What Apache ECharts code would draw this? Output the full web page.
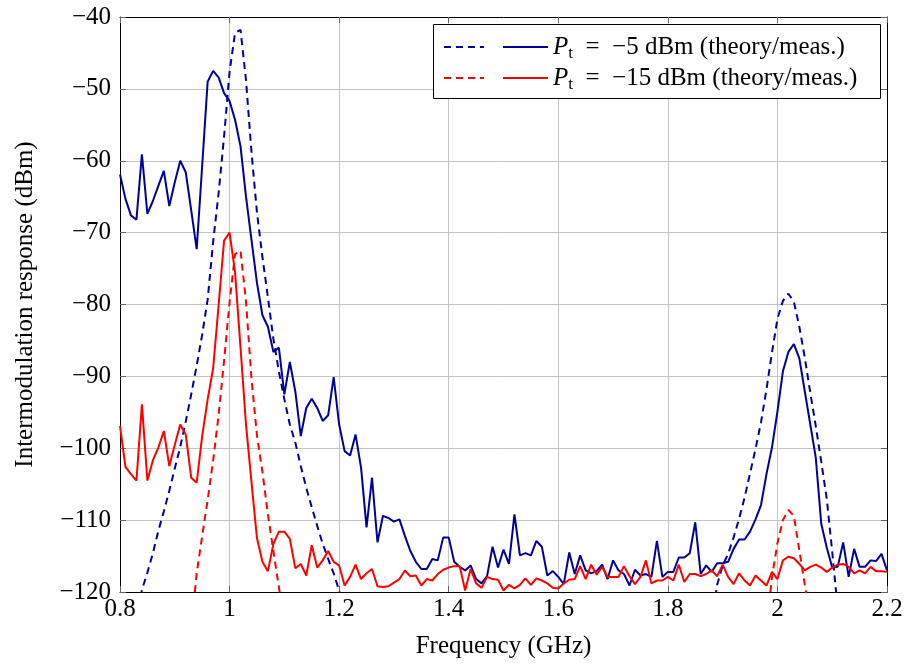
<!DOCTYPE html>
<html><head><meta charset="utf-8">
<script src="https://cdn.jsdelivr.net/npm/echarts@6/dist/echarts.min.js"></script>
<style>html,body{margin:0;padding:0;background:#fff}#c{width:907px;height:664px}</style>
</head><body><div id="c"></div>
<script>
// ---- Data (frequencies in GHz, responses in dBm) ----
const FREQ_STEP = 0.01;
const measStart = 0.80;
// Measured, Pt = -5 dBm (0.80 ... 2.20 GHz)
const measM5 = [
 -61.9,-65.3,-67.6,-68.2,-59.1,-67.4,-65.6,-63.5,-61.4,-66.3,
 -63.0,-60.0,-61.6,-66.9,-72.3,-60.7,-49.0,-47.5,-48.4,-50.6,
 -51.7,-54.3,-58.0,-65.0,-71.0,-77.0,-81.5,-83.1,-86.6,-86.0,
 -92.5,-88.0,-92.1,-98.3,-94.4,-93.1,-94.4,-96.2,-95.4,-90.1,
 -96.7,-100.4,-101.0,-98.1,-102.7,-111.0,-104.1,-113.1,-109.4,-109.7,
 -110.2,-109.9,-112.2,-114.3,-115.8,-116.8,-116.8,-115.4,-115.6,-112.4,
 -112.4,-115.8,-116.5,-117.0,-116.3,-118.2,-118.8,-117.8,-113.7,-116.6,
 -114.1,-116.1,-109.2,-114.9,-114.6,-114.9,-112.9,-113.7,-117.7,-117.1,
 -117.9,-118.9,-114.5,-117.5,-114.9,-117.0,-117.4,-117.1,-116.2,-118.2,
 -115.6,-117.0,-117.5,-119.1,-116.9,-117.7,-117.5,-117.9,-112.9,-117.9,
 -117.2,-117.2,-115.2,-115.2,-114.6,-110.3,-117.5,-116.3,-117.2,-116.0,
 -116.0,-115.8,-114.0,-112.7,-112.7,-111.6,-109.9,-107.9,-103.6,-99.9,
 -94.9,-89.3,-86.6,-85.5,-87.5,-92.1,-96.7,-101.3,-110.5,-113.8,
 -116.6,-116.5,-113.1,-117.9,-114.0,-116.5,-116.5,-115.6,-115.7,-114.7,
 -117.0
];
// Measured, Pt = -15 dBm (0.80 ... 2.20 GHz)
const measM15 = [
 -96.9,-102.6,-103.6,-104.5,-93.9,-104.5,-101.7,-99.9,-97.6,-102.5,
 -99.5,-96.7,-98.1,-104.1,-104.8,-98.3,-93.2,-88.9,-80.1,-71.1,
 -70.0,-75.5,-86.0,-96.7,-104.7,-112.5,-115.8,-117.1,-113.3,-111.6,
 -111.6,-112.6,-116.7,-116.1,-117.7,-113.5,-116.6,-115.6,-114.3,-115.8,
 -116.3,-119.1,-117.9,-116.2,-118.2,-117.4,-116.8,-119.2,-119.3,-119.2,
 -118.7,-118.2,-117.0,-117.8,-117.7,-119.1,-118.2,-118.4,-117.5,-116.9,
 -116.6,-116.4,-116.4,-119.8,-116.8,-118.8,-119.4,-117.9,-118.2,-118.3,
 -119.8,-119.0,-119.5,-119.0,-118.1,-119.0,-118.1,-118.4,-118.8,-119.4,
 -119.5,-118.8,-118.3,-118.2,-116.4,-118.2,-116.2,-117.6,-116.5,-117.9,
 -117.9,-117.9,-116.4,-117.8,-118.9,-117.9,-115.6,-118.8,-118.4,-118.4,
 -117.9,-118.4,-116.2,-118.6,-117.5,-117.5,-117.8,-117.5,-117.0,-117.8,
 -116.2,-117.9,-118.9,-117.4,-118.4,-119.1,-117.7,-118.4,-119.1,-117.2,
 -118.2,-115.6,-115.1,-115.3,-116.1,-117.0,-116.5,-116.2,-116.6,-117.2,
 -116.6,-116.2,-116.1,-116.5,-117.4,-117.0,-117.4,-116.5,-117.1,-117.1,
 -117.2
];
// Theory, Pt = -5 dBm
const theoryM5LowStart = 0.83;
const theoryM5Low = [-124,-119.7,-117.3,-114.6,-111.5,-108.8,-105.9,-102.8,-99.8,-96.3,
 -92.5,-88.5,-84.2,-79.3,-71.3,-64.5,-56.6,-47.6,-42.2,-41.8,
 -48.8,-58.8,-67.2,-73.4,-79.0,-84.8,-89.3,-93.2,-96.7,-99.2,
 -102.5,-105.5,-108.2,-110.8,-113.3,-115.4,-117.4,-119.8,-123];
const theoryM5HighStart = 1.88;
const theoryM5High = [-124,-119.0,-116.3,-114.7,-112.4,-109.8,-106.9,-103.5,-100.1,-96.4,
 -91.8,-86.7,-82.0,-79.5,-78.5,-79.6,-83.1,-87.4,-92.3,-96.9,
 -101.9,-107.0,-114.4,-122.3];
// Theory, Pt = -15 dBm
const theoryM15LowStart = 0.93;
const theoryM15Low = [-125,-117.4,-112.2,-107.2,-101.7,-95.4,-87.8,-79.7,-73.0,-72.5,
 -79.6,-90.3,-98.2,-103.3,-109.2,-114.3,-119.3,-124.5];
const theoryM15HighStart = 1.98;
const theoryM15High = [-125,-118.0,-113.2,-110.0,-108.6,-109.4,-114.2,-119.0,-124];

const xAxisRange = {min: 0.8, max: 2.2, interval: 0.2};
const yAxisRange = {min: -120, max: -40, interval: 10};
const legendLabels = {
  m5: '{i|P}{s|t}\u2002=\u2002\u22125 dBm (theory/meas.)',
  m15: '{i|P}{s|t}\u2002=\u2002\u221215 dBm (theory/meas.)'
};

// ---- Build ----
const FONT = 'Liberation Serif';
const FS = 25;
const BLUE = '#000099', RED = '#ff0000';
function pairs(start, vals) {
  return vals.map((v, i) => [Math.round((start + i * FREQ_STEP) * 100) / 100, v]);
}
function joinSegs(a, b) { return a.concat([[1.5, '-']], b); }

const chart = echarts.init(document.getElementById('c'), null, {renderer: 'canvas'});
const tickStyle = {show: true, inside: true, length: 6, lineStyle: {color: '#666', width: 1}};
const axisLine = {show: true, lineStyle: {color: '#000', width: 1}};
const minusFmt = v => String(v).replace('-', '\u2212');
const legendItemStyle = {color: 'transparent', borderWidth: 0, borderColor: 'transparent'};

const option = {
  animation: false,
  backgroundColor: '#fff',
  grid: {left: 120, right: 20, top: 17, bottom: 69, containLabel: false},
  xAxis: [
    {type: 'value', position: 'bottom', ...xAxisRange,
     name: 'Frequency (GHz)', nameLocation: 'middle', nameGap: 42,
     nameTextStyle: {fontFamily: FONT, fontSize: FS, color: '#000'},
     axisLine, axisTick: tickStyle,
     axisLabel: {fontFamily: FONT, fontSize: FS, color: '#000', margin: 5, formatter: v => String(Math.round(v*10)/10)},
     splitLine: {show: true, lineStyle: {color: '#c4c4c4', width: 1}}},
    {type: 'value', position: 'top', ...xAxisRange,
     axisLine, axisTick: tickStyle, axisLabel: {show: false}, splitLine: {show: false}}
  ],
  yAxis: [
    {type: 'value', position: 'left', ...yAxisRange,
     name: 'Intermodulation response (dBm)', nameLocation: 'middle', nameGap: 82,
     nameTextStyle: {fontFamily: FONT, fontSize: FS, color: '#000'},
     axisLine, axisTick: tickStyle,
     axisLabel: {fontFamily: FONT, fontSize: FS, color: '#000', margin: 9, formatter: minusFmt},
     splitLine: {show: true, lineStyle: {color: '#c4c4c4', width: 1}}},
    {type: 'value', position: 'right', ...yAxisRange,
     axisLine, axisTick: tickStyle, axisLabel: {show: false}, splitLine: {show: false}}
  ],
  legend: [
    {data: ['th5', 'th15'], orient: 'vertical', left: 443, top: 32, padding: 0,
     itemWidth: 40, itemHeight: 14, itemGap: 1, selectedMode: false, z: 5,
     itemStyle: legendItemStyle,
     formatter: () => ' ',
     textStyle: {fontFamily: FONT, fontSize: FS, lineHeight: 30}},
    {data: ['m5', 'm15'], orient: 'vertical', left: 502, top: 32, padding: 0,
     itemWidth: 45, itemHeight: 14, itemGap: 1, selectedMode: false, z: 5,
     itemStyle: legendItemStyle,
     formatter: n => legendLabels[n],
     textStyle: {fontFamily: FONT, fontSize: FS, lineHeight: 30, color: '#000',
       rich: {
         i: {fontFamily: FONT, fontSize: FS, fontStyle: 'italic', lineHeight: 30, color: '#000'},
         s: {fontFamily: FONT, fontSize: 17, lineHeight: 19, verticalAlign: 'bottom', color: '#000'}
       }}}
  ],
  graphic: [
    {type: 'rect', left: 433, top: 24, z: 3,
     shape: {x: 0.5, y: 0.5, width: 447, height: 74},
     style: {fill: '#fff', stroke: '#000', lineWidth: 1}}
  ],
  series: [
    {name: 'th5', type: 'line', symbol: 'none', connectNulls: false, clip: true,
     data: joinSegs(pairs(theoryM5LowStart, theoryM5Low), pairs(theoryM5HighStart, theoryM5High)),
     lineStyle: {color: BLUE, width: 2, type: [7, 5]}, itemStyle: {color: BLUE}},
    {name: 'th15', type: 'line', symbol: 'none', connectNulls: false, clip: true,
     data: joinSegs(pairs(theoryM15LowStart, theoryM15Low), pairs(theoryM15HighStart, theoryM15High)),
     lineStyle: {color: RED, width: 2, type: [7, 5]}, itemStyle: {color: RED}},
    {name: 'm5', type: 'line', symbol: 'none', clip: true,
     data: pairs(measStart, measM5),
     lineStyle: {color: BLUE, width: 2}, itemStyle: {color: BLUE}},
    {name: 'm15', type: 'line', symbol: 'none', clip: true,
     data: pairs(measStart, measM15),
     lineStyle: {color: RED, width: 2}, itemStyle: {color: RED}}
  ]
};
chart.setOption(option);
</script>
</body></html>
